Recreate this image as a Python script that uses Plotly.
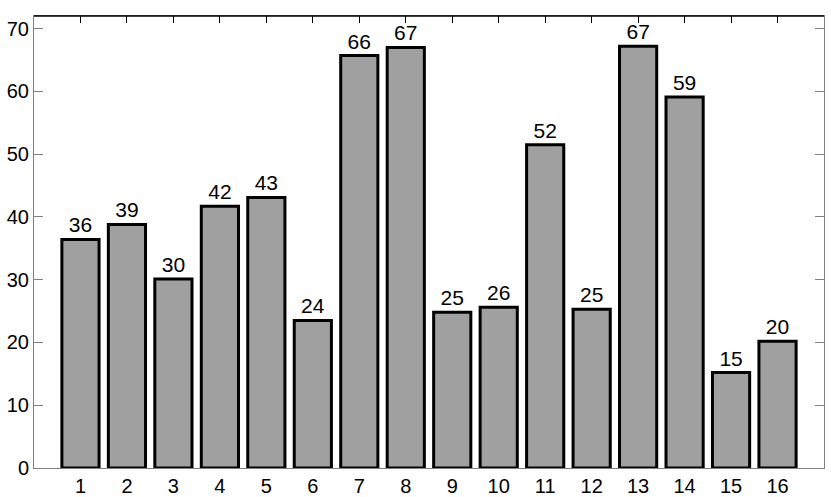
import plotly.graph_objects as go

categories = list(range(1, 17))
values = [36.4, 38.8, 30.1, 41.7, 43.1, 23.5, 65.7, 67.0, 24.8, 25.6, 51.5, 25.3, 67.2, 59.1, 15.2, 20.2]
labels = ["36", "39", "30", "42", "43", "24", "66", "67", "25", "26", "52", "25", "67", "59", "15", "20"]
y_ticks = [0, 10, 20, 30, 40, 50, 60, 70]

font = "Liberation Sans, Arial, sans-serif"

fig = go.Figure(go.Bar(
    x=categories, y=values, width=0.8,
    marker=dict(color="#a0a0a0", line=dict(color="black", width=3)),
    text=labels, textposition="outside", cliponaxis=False, constraintext="none",
    textfont=dict(family=font, size=21, color="black"),
))

fig.update_layout(
    width=831, height=497,
    margin=dict(l=34, r=7, t=16, b=29),
    paper_bgcolor="white", plot_bgcolor="white",
    showlegend=False,
)
fig.update_xaxes(
    range=[0, 17], tickvals=categories, ticktext=[str(c) for c in categories],
    showgrid=False, zeroline=False, automargin=False,
    showline=True, linecolor="#808080", linewidth=1, mirror="ticks",
    ticks="inside", ticklen=7, tickcolor="black", tickwidth=1,
    tickfont=dict(family=font, size=20, color="black"),
    layer="below traces",
)
fig.update_yaxes(
    range=[0, 72], tickvals=y_ticks,
    showgrid=False, zeroline=False, automargin=False,
    showline=True, linecolor="#808080", linewidth=1, mirror="ticks",
    ticks="inside", ticklen=9, tickcolor="#808080", tickwidth=1,
    tickfont=dict(family=font, size=20, color="black"),
    ticklabelstandoff=0,
)
fig.add_shape(type="line", xref="paper", yref="paper", x0=0, x1=1, y0=1, y1=1,
              line=dict(color="black", width=1.5))

fig.write_html("out.html", config={"displayModeBar": False},
               post_script="document.body.style.margin='0';")
